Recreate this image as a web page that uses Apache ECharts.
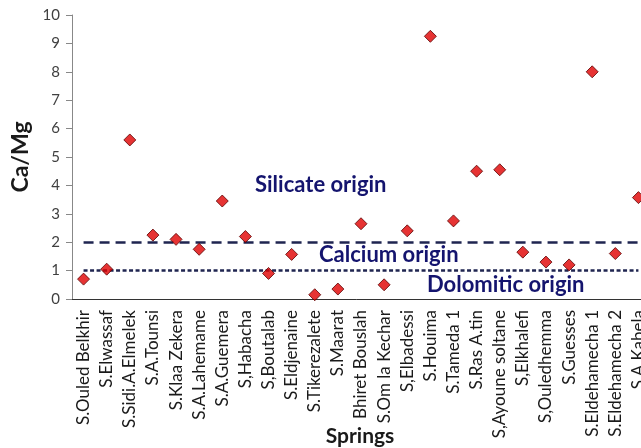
<!DOCTYPE html>
<html><head><meta charset="utf-8">
<script src="https://cdn.jsdelivr.net/npm/echarts@6/dist/echarts.min.js"></script>
<style>html,body{margin:0;padding:0;background:#fff}#c{width:641px;height:448px}</style>
</head><body><div id="c"></div>
<script>
const categories = ["S.Ouled Belkhir","S.Elwassaf","S.Sidi.A.Elmelek","S.A.Tounsi","S.Klaa Zekera","S.A.Lahemame","S.A.Guemera","S,Habacha","S,Boutalab","S.Eldjenaine","S.Tikerezalete","S.Maarat","Bhiret Bouslah","S.Om la Kechar","S,Elbadessi","S.Houima","S.Tameda 1","S.Ras A.tin","S,Ayoune soltane","S,Elkhalefi","S,Ouledhemma","S.Guesses","S.Eldehamecha 1","S.Eldehamecha 2","S.A.Kabela"];
const caMg = [0.7,1.05,5.6,2.25,2.1,1.75,3.45,2.2,0.9,1.57,0.15,0.35,2.65,0.5,2.4,9.25,2.75,4.5,4.55,1.65,1.3,1.2,8.0,1.6,3.57];
const yTicks = [0,1,2,3,4,5,6,7,8,9,10];
const thresholds = [2,1];
const zoneLabels = ["Silicate origin","Calcium origin","Dolomitic origin"];
const xTitle = "Springs";
const yTitle = "Ca/Mg";

const FONT = 'Lato';
const chart = echarts.init(document.getElementById('c'));
chart.setOption({
  animation:false,
  textStyle:{fontFamily:FONT},
  grid:{left:72, top:15, width:578, height:284, containLabel:false, outerBoundsMode:'none'},
  xAxis:[{type:'category', data:categories, boundaryGap:true,
    axisLine:{lineStyle:{color:'#333',width:1}},
    axisTick:{alignWithLabel:true, length:5, lineStyle:{color:'#333'}},
    axisLabel:{rotate:90, interval:0, fontSize:17, color:'#1a1a1a', margin:11, fontFamily:FONT}
  },{type:'category', data:categories, boundaryGap:true, position:'bottom',
    axisLine:{show:false},
    axisTick:{alignWithLabel:true, inside:true, length:4, lineStyle:{color:'#333'}},
    axisLabel:{show:false}
  }],
  yAxis:{type:'value', min:yTicks[0], max:yTicks[yTicks.length-1], interval:1,
    splitLine:{show:false},
    axisLine:{show:true, lineStyle:{color:'#888'}},
    axisTick:{show:true, length:6, lineStyle:{color:'#888'}},
    axisLabel:{fontSize:15, color:'#404040', margin:12, fontFamily:FONT},
    name:yTitle, nameLocation:'middle', nameGap:40, nameRotate:90,
    nameTextStyle:{fontSize:23, fontWeight:'bold', color:'#1a1a1a', fontFamily:FONT}
  },
  series:[{
    type:'scatter', data:caMg, symbol:'diamond', symbolSize:12,
    itemStyle:{color:'#e00000', borderColor:'#5a0000', borderWidth:1},
    z:5,
    markLine:{silent:true, symbol:'none', label:{show:false},
      data:[
        [{coord:[0,thresholds[0]], lineStyle:{type:[10,6], width:2.5, color:'#1f2550'}},{coord:[categories.length-1,thresholds[0]]}],
        [{coord:[0,thresholds[1]], lineStyle:{type:[4,2.5], width:2.5, color:'#1f2550'}},{coord:[categories.length-1,thresholds[1]]}]
      ]}
  }],
  graphic:[
    {type:'text', left:255, top:174, style:{text:zoneLabels[0], fill:'#14146e', font:'bold 22px '+FONT}},
    {type:'text', left:319, top:244, style:{text:zoneLabels[1], fill:'#14146e', font:'bold 22px '+FONT}},
    {type:'text', left:427, top:274, style:{text:zoneLabels[2], fill:'#14146e', font:'bold 22px '+FONT}},
    {type:'text', x:360, y:436, style:{text:xTitle, fill:'#1a1a1a', font:'bold 21px '+FONT, textAlign:'center', textVerticalAlign:'middle'}}
  ]
});
</script></body></html>
